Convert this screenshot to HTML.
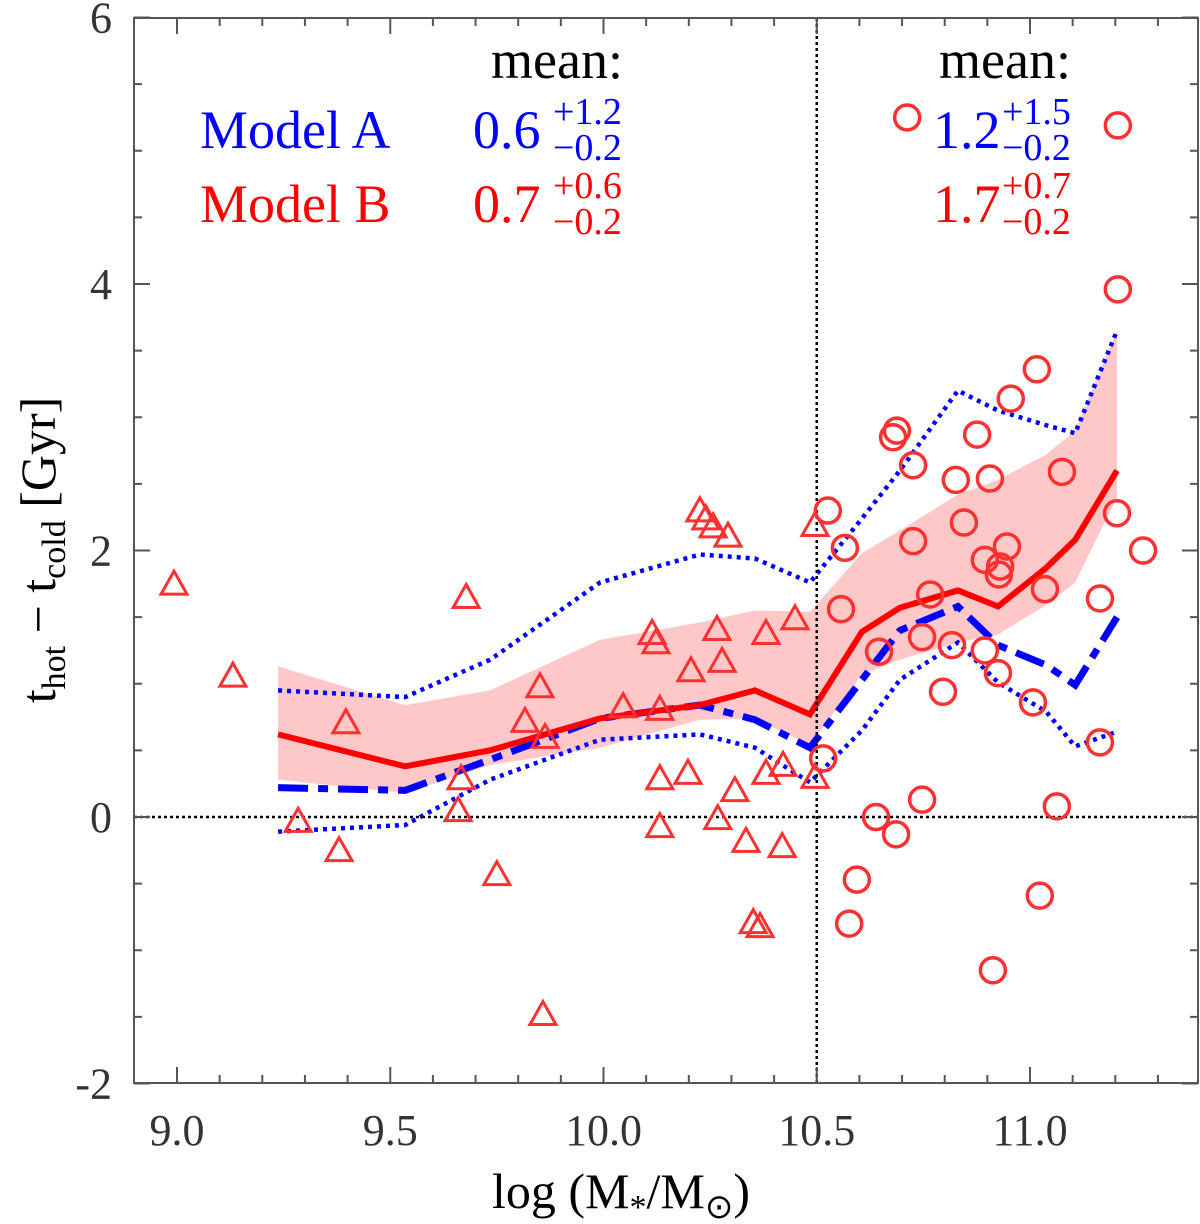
<!DOCTYPE html>
<html><head><meta charset="utf-8"><style>
body{margin:0;background:#fff}
svg{display:block;font-family:"Liberation Serif",serif}
</style></head><body>
<svg id="chart" width="1200" height="1224" viewBox="0 0 1200 1224" xmlns="http://www.w3.org/2000/svg">
<g id="band"></g>
<g id="lines"></g>
<g id="refs"></g>
<g id="marks"></g>
<g id="axes"></g>
<g id="text">
 <text x="557" y="78" font-size="54" text-anchor="middle" fill="#000">mean:</text>
 <text x="1005" y="78" font-size="54" text-anchor="middle" fill="#000">mean:</text>
 <text x="200" y="148" font-size="54" fill="#0000ff">Model A</text>
 <text x="200" y="222" font-size="54" fill="#ff0000">Model B</text>
 <g fill="#0000ff"><text x="473" y="148" font-size="54">0.6</text><text x="553" y="124" font-size="38">+1.2</text><text x="553" y="160" font-size="38">−0.2</text></g>
 <g fill="#ff0000"><text x="473" y="222" font-size="54">0.7</text><text x="553" y="198" font-size="38">+0.6</text><text x="553" y="234" font-size="38">−0.2</text></g>
 <g fill="#0000ff"><text x="933" y="148" font-size="54">1.2</text><text x="1002" y="124" font-size="38">+1.5</text><text x="1002" y="160" font-size="38">−0.2</text></g>
 <g fill="#ff0000"><text x="933" y="222" font-size="54">1.7</text><text x="1002" y="198" font-size="38">+0.7</text><text x="1002" y="234" font-size="38">−0.2</text></g>
 <text x="621" y="1208" font-size="50" text-anchor="middle" fill="#000">log (M<tspan font-size="34" dy="10">*</tspan><tspan dy="-10">/M</tspan><tspan font-size="34" dy="10">⊙</tspan><tspan dy="-10">)</tspan></text>
 <text transform="translate(55,550) rotate(-90)" font-size="50" text-anchor="middle" fill="#000">t<tspan font-size="34" dy="10">hot</tspan><tspan dy="-10"> − t</tspan><tspan font-size="34" dy="10">cold</tspan><tspan dy="-10"> [Gyr]</tspan></text>
</g>
</svg>
<script>
const lineX=[9.237,9.535,9.734,9.992,10.226,10.355,10.484,10.606,10.695,10.831,10.925,11.038,11.106,11.204];
const medianB=[0.62,0.38,0.50,0.74,0.84,0.95,0.77,1.39,1.57,1.70,1.58,1.87,2.08,2.60];
const bandUpper=[1.13,0.84,0.95,1.33,1.46,1.55,1.54,1.98,2.15,2.42,2.53,2.72,2.90,3.65];
const bandLower=[0.28,0.18,0.39,0.52,0.73,0.74,0.54,1.07,1.18,1.31,1.37,1.59,1.76,2.40];
const medianA=[0.22,0.20,0.43,0.74,0.84,0.73,0.52,1.03,1.40,1.58,1.29,1.14,0.99,1.50];
const upperA=[0.95,0.90,1.18,1.76,1.97,1.94,1.76,2.24,2.60,3.20,3.05,2.94,2.88,3.65];
const lowerA=[-0.11,-0.06,0.28,0.58,0.62,0.52,0.26,0.65,1.03,1.31,1.01,0.79,0.53,0.64];
const triX=[8.993,9.131,9.284,9.380,9.396,9.678,9.666,9.659,9.750,9.851,9.816,9.863,9.858,10.046,10.114,10.123,10.132,10.132,10.132,10.198,10.205,10.226,10.240,10.257,10.292,10.266,10.278,10.268,10.308,10.334,10.351,10.367,10.381,10.381,10.421,10.419,10.449,10.496,10.496];
const triY=[1.74,1.05,-0.04,-0.26,0.70,1.64,0.28,0.04,-0.44,0.97,0.71,0.59,-1.49,0.82,1.37,1.30,0.28,0.80,-0.08,0.32,1.09,2.29,2.23,2.17,2.10,1.40,1.16,-0.02,0.19,-0.19,-0.80,-0.83,1.37,0.32,0.38,-0.23,1.48,2.18,0.29];
const cirX=[10.712,11.206,11.206,11.016,10.955,10.688,10.679,10.876,10.726,10.826,10.906,11.075,10.526,10.845,11.204,10.726,11.265,10.946,10.894,10.930,10.927,10.566,10.557,11.164,11.035,10.766,10.646,10.747,10.817,10.894,10.925,10.796,11.007,11.164,10.515,10.594,10.576,10.639,10.686,10.747,11.063,11.023,10.913];
const cirY=[5.25,5.19,3.96,3.36,3.14,2.90,2.85,2.87,2.64,2.53,2.54,2.59,2.30,2.21,2.28,2.07,2.00,2.03,1.93,1.88,1.82,2.02,1.56,1.64,1.71,1.67,1.24,1.35,1.29,1.25,1.08,0.94,0.86,0.56,0.44,-0.47,-0.80,0.00,-0.13,0.13,0.08,-0.59,-1.15];
const xTicks=[9.0,9.5,10.0,10.5,11.0];
const xTickLabels=["9.0","9.5","10.0","10.5","11.0"];
const yTicks=[-2,0,2,4,6];
const yTickLabels=["-2","0","2","4","6"];

const L=134,R=1198,T=18,B=1083;
const X=v=>177+(v-9)*426.5;
const Y=v=>817-v*133.25;
const NS="http://www.w3.org/2000/svg";
function mk(tag,attrs,parent){const e=document.createElementNS(NS,tag);for(const k in attrs)e.setAttribute(k,attrs[k]);parent.appendChild(e);return e;}
const gb=document.getElementById('band'),gl=document.getElementById('lines'),gr=document.getElementById('refs'),gm=document.getElementById('marks'),ga=document.getElementById('axes');

let pts=lineX.map((x,i)=>X(x)+','+Y(bandUpper[i]));
for(let i=lineX.length-1;i>=0;i--)pts.push(X(lineX[i])+','+Y(bandLower[i]));
const band=mk('polygon',{points:pts.join(' '),fill:'#ffc8c8',stroke:'none'},gb);



function line(vals,st,name){const p=mk('polyline',Object.assign({points:lineX.map((x,i)=>X(x)+','+Y(vals[i])).join(' '),fill:'none'},st),gl);

}
line(upperA,{stroke:'#0000ff','stroke-width':4.5,'stroke-dasharray':'4 5'},'model-a-upper-dotted');
line(lowerA,{stroke:'#0000ff','stroke-width':4.5,'stroke-dasharray':'4 5'},'model-a-lower-dotted');
line(medianA,{stroke:'#0000ff','stroke-width':7,'stroke-dasharray':'30 10 10 10'},'model-a-median-dashed');
line(medianB,{stroke:'#ff0000','stroke-width':6},'model-b-median');

const v=mk('line',{x1:X(10.5),x2:X(10.5),y1:T,y2:B,stroke:'#000','stroke-width':2.5,'stroke-dasharray':'3 3'},gr);


const h=mk('line',{x1:L,x2:R,y1:Y(0),y2:Y(0),stroke:'#000','stroke-width':2.5,'stroke-dasharray':'3 3'},gr);



triX.forEach((x,i)=>{const cx=X(x),cy=Y(triY[i]);
const t=mk('polygon',{points:`${cx},${cy-14} ${cx-13},${cy+9} ${cx+13},${cy+9}`,fill:'none',stroke:'#ff3030','stroke-width':3},gm);

});
cirX.forEach((x,i)=>{
const c=mk('circle',{cx:X(x),cy:Y(cirY[i]),r:12.5,fill:'none',stroke:'#ff3030','stroke-width':3.5},gm);

});

const fr=mk('rect',{x:L,y:T,width:R-L,height:B-T,fill:'none',stroke:'#555','stroke-width':2},ga);


for(let k=0;k<=24;k++){const xv=8.9+k*0.1;const px=X(xv);if(px<L+1||px>R-1)continue;
const major=Math.abs(xv*2-Math.round(xv*2))<1e-6;const len=major?16:8;
mk('line',{x1:px,x2:px,y1:B,y2:B-len,stroke:'#555','stroke-width':2},ga);
mk('line',{x1:px,x2:px,y1:T,y2:T+len,stroke:'#555','stroke-width':2},ga);}
for(let k=-4;k<=12;k++){const yv=k*0.5;const py=Y(yv);
const major=k%4===0;const len=major?16:8;
mk('line',{x1:L,x2:L+len,y1:py,y2:py,stroke:'#555','stroke-width':2},ga);
mk('line',{x1:R,x2:R-len,y1:py,y2:py,stroke:'#555','stroke-width':2},ga);}
xTicks.forEach((t,i)=>{const e=mk('text',{x:X(t),y:1145,'font-size':44,'text-anchor':'middle',fill:'#333'},ga);e.textContent=xTickLabels[i];

});
yTicks.forEach((t,i)=>{const e=mk('text',{x:112,y:Y(t)+15,'font-size':44,'text-anchor':'end',fill:'#333'},ga);e.textContent=yTickLabels[i];

});
</script>
</body></html>
